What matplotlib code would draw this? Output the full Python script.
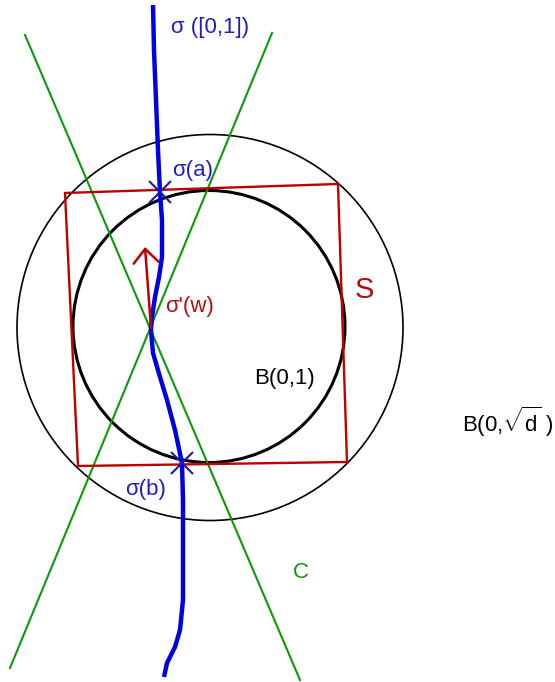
import matplotlib
matplotlib.use("Agg")
import matplotlib.pyplot as plt
from matplotlib.patches import Circle, Polygon

plt.rcParams['font.family'] = ['Liberation Sans', 'DejaVu Sans']
plt.rcParams['mathtext.fontset'] = 'custom'
plt.rcParams['mathtext.rm'] = 'Liberation Sans'
plt.rcParams['mathtext.it'] = 'Liberation Sans'

# diagram geometry (pixel units, y down)
curve_x = [153, 154, 156, 158, 160, 162, 162, 159, 155, 152, 151, 153, 160,
           167, 175, 182, 183, 183, 183, 180, 175, 167, 164]
curve_y = [5, 50, 100, 150, 192, 220, 257, 277, 297, 317, 330, 353, 377,
           400, 430, 463, 500, 550, 600, 630, 647, 663, 677]
square_x = [65, 338, 347, 78]
square_y = [193, 184, 462, 466]
cone_a = [(25, 35), (300, 680)]
cone_b = [(272, 33), (10, 668)]
big_ball = (210, 327.5, 193)
unit_ball = (209, 326.5, 136)
cross_pts = [(160, 192), (182, 463)]
tangent = [(151, 328), (145, 247)]

labels = [
    ("σ ([0,1])", 171, 33, "#1e1ec8", 16),
    ("σ(a)", 172, 176, "#1e1ec8", 16),
    ("σ'(w)", 165, 312, "#b01010", 16),
    ("σ(b)", 125, 495, "#1e1ec8", 16),
    ("S", 355, 298, "#b01010", 21),
    ("B(0,1)", 254, 384, "black", 16),
    ("B(0,$\\sqrt{d}$ )", 462, 432, "black", 16),
    ("C", 293, 578, "#0a9a0a", 16),
]

fig = plt.figure(figsize=(5.55, 6.82), dpi=100)
ax = fig.add_axes([0, 0, 1, 1])
ax.set_xlim(0, 555)
ax.set_ylim(682, 0)
ax.axis('off')

green = "#0a9a0a"
red = "#c00000"

for (x0, y0), (x1, y1) in (cone_a, cone_b):
    ax.plot([x0, x1], [y0, y1], color=green, lw=1.5, zorder=2)

cx, cy, r = big_ball
ax.add_patch(Circle((cx, cy), r, fill=False, ec='black', lw=1.2, zorder=1))
cx, cy, r = unit_ball
ax.add_patch(Circle((cx, cy), r, fill=False, ec='black', lw=2.2, zorder=1))

ax.add_patch(Polygon(list(zip(square_x, square_y)), closed=True, fill=False,
                     ec=red, lw=1.7, zorder=3))

ax.plot(curve_x, curve_y, color="#0000e6", lw=3.2, solid_capstyle='butt',
        solid_joinstyle='round', zorder=4)

for px, py in cross_pts:
    ax.plot(px, py, marker='x', ms=16, mew=1.5, color="#1a1aa8", zorder=5)

ax.annotate("", xy=tangent[1], xytext=tangent[0],
            arrowprops=dict(arrowstyle="->,head_length=0.5,head_width=0.45",
                            color=red, lw=1.8, mutation_scale=20,
                            shrinkA=0, shrinkB=0), zorder=6)

for txt, x, y, col, fs in labels:
    ax.text(x, y, txt, color=col, fontsize=fs, ha='left', va='baseline', zorder=7)

fig.savefig("out.png", dpi=100)
